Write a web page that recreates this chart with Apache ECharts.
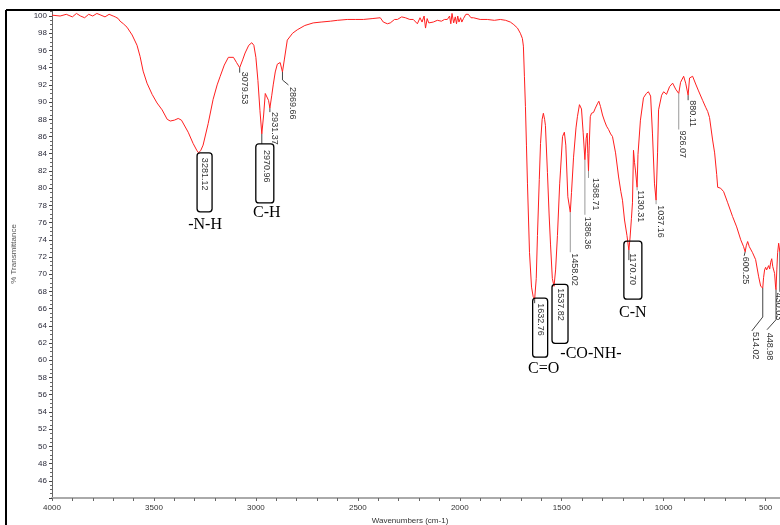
<!DOCTYPE html>
<html>
<head>
<meta charset="utf-8">
<script src="https://cdn.jsdelivr.net/npm/echarts@6/dist/echarts.min.js"></script>
<style>
html,body{margin:0;padding:0;background:#fff;overflow:hidden;}
#chart{width:780px;height:525px;}
</style>
</head>
<body>
<div id="chart"></div>
<script>
// ---- Spectrum data (wavenumber cm-1, % transmittance) ----
const specWn = [4000,3960,3930,3900,3880,3860,3840,3820,3800,3780,3760,3740,3720,3700,3690,3675,3666,3650,3632,3607,3583,3568,3553,3534,3509,3485,3460,3435,3420,3400,3381,3365,3357,3332,3308,3290,3281.12,3270,3259,3234,3210,3190,3175,3155,3135,3126,3110,3095,3079.53,3065,3053,3035,3020,3010,3000,2990,2980,2970.96,2962,2954,2945,2938,2931.37,2922,2915,2905,2895,2881,2869.66,2860,2846,2820,2797,2760,2719,2680,2635,2600,2552,2510,2473,2430,2390,2375,2355,2341,2320,2306,2285,2267,2245,2228,2208,2195,2185,2175,2168,2160,2152,2144,2130,2110,2090,2075,2061,2050,2044,2038,2030,2022,2016,2010,2004,1996,1990,1982,1970,1958,1945,1933,1900,1865,1830,1801,1775,1752,1735,1717,1703,1693,1688,1683,1678,1673,1668,1658,1648,1640,1632.76,1625,1619,1610,1604,1596,1590,1584,1580,1570,1562,1555,1546,1537.82,1530,1521,1510,1506,1496,1487,1480,1470,1458.02,1452,1442,1430,1423,1413,1403,1395,1386.36,1380,1375,1372,1368.71,1365,1360,1354,1344,1335,1325,1318,1310,1300,1290,1280,1270,1260,1251,1236,1221,1210,1202,1192,1180,1170.7,1165,1158,1153,1148,1143,1138,1130.31,1126,1114,1099,1085,1075,1064,1055,1045,1037.16,1030,1025,1010,1000,986,971,956,941,926.07,917,902,892,880.11,873,858,843,829,809,794,784,775,760,750,740,735,728,721,706,686,662,642,622,608,600.25,595,588,580,573,564,549,534,524,514.02,510,505,500,495,490,485,480,475,470,465,460,456,451,448.98,445,441,436,430.03,426,418,410,400];
const specT = [100.1,100.0,100.2,99.9,100.3,100.0,99.8,100.2,100.0,100.3,100.1,99.9,100.2,100.0,99.9,99.7,99.4,99.1,98.7,97.8,96.6,95.3,93.6,92.2,90.9,89.9,89.1,88.0,87.8,87.9,88.1,87.9,87.7,86.5,85.2,84.4,84.1,84.4,85.0,87.5,90.3,92.0,93.0,94.3,95.2,95.4,95.2,94.6,94.0,94.9,95.7,96.6,96.9,96.6,95.2,92.5,89.0,86.3,88.5,91.0,91.2,90.2,89.3,90.8,92.0,93.5,94.4,94.6,93.5,95.0,97.2,98.0,98.4,98.9,99.2,99.3,99.4,99.5,99.6,99.6,99.6,99.7,99.8,99.3,99.1,99.2,99.6,99.6,99.9,99.8,99.6,99.6,99.1,99.8,99.3,100.0,98.6,99.7,99.2,99.4,99.3,99.5,99.4,99.6,99.6,100.0,99.1,100.3,99.2,99.9,99.1,100.0,99.3,99.8,99.3,99.7,100.2,100.2,99.8,99.8,99.6,99.6,99.5,99.6,99.5,99.3,99.0,98.6,98.0,97.4,96.5,93.0,89.5,85.0,80.5,72.5,68.5,67.4,67.1,69.5,74.5,81.0,85.2,88.0,88.7,88.0,87.3,81.8,77.0,73.5,69.5,68.6,70.5,74.5,80.5,82.0,86.0,86.5,85.0,79.0,77.2,79.5,83.6,87.0,88.3,89.7,89.2,86.5,83.3,85.8,86.4,84.0,82.0,85.0,88.3,88.7,88.8,89.3,89.8,90.1,89.5,88.5,87.8,87.2,86.8,86.3,86.0,84.1,81.3,79.6,78.6,76.3,74.5,72.8,74.2,76.5,78.3,84.4,83.0,82.0,80.1,83.9,87.9,90.5,91.0,91.2,90.7,86.4,80.5,78.6,84.1,89.1,90.8,91.2,90.9,91.8,92.2,91.5,91.0,92.3,93.0,92.2,90.8,92.8,93.0,92.1,91.3,90.2,89.4,88.9,88.2,85.6,84.1,81.6,80.1,80.1,80.0,79.6,78.3,76.7,75.5,74.0,73.2,72.6,73.3,73.8,73.2,73.4,72.5,71.7,69.7,68.6,68.4,69.6,70.5,70.8,70.5,70.6,71.0,70.6,71.4,71.8,70.9,70.8,70.1,68.5,68.2,70.5,72.5,73.6,72.6,73.2,72.5,73.0,72.8];

// ---- Peak annotations ----
const peakWn = [3281.12,3079.53,2970.96,2931.37,2869.66,1632.76,1537.82,1458.02,1386.36,1368.71,1170.70,1130.31,1037.16,926.07,880.11,600.25,514.02,448.98,430.03];
const peakT  = [84.1,94.0,86.3,89.3,93.5,67.1,68.6,77.2,83.3,82.0,72.8,80.1,78.6,91.0,90.8,72.6,68.4,68.2,72.6];
const groupNames = ['-N-H','C-H','C=O','-CO-NH-','C-N'];

// ---- Axis ticks ----
const xTickLabels = [4000,3500,3000,2500,2000,1500,1000,500];
const yTickLabels = [100,98,96,94,92,90,88,86,84,82,80,78,76,74,72,70,68,66,64,62,60,58,56,54,52,50,48,46];

// label layout (pixel offsets relative to the peak point)
const peakLayout = [
  {tx:6,  ty:5,  box:[-1.5,0,15,59], group:0, gx:6.5, gy:72},
  {tx:5,  ty:4,  line:[[0,0],[0,5]]},
  {tx:4.5,ty:16, line:[[0,0],[0,10]], box:[-6,10,18,59], group:1, gx:5, gy:79},
  {tx:4.5,ty:4,  line:[[0,0],[0,4]]},
  {tx:10.5,ty:15,line:[[0,0],[0,8],[6,13]]},
  {tx:5.5,ty:4,  line:[[0,0],[0,4]], box:[-2,-1,15,59], group:2, gx:9, gy:70},
  {tx:6.5,ty:2,  box:[-2,-2,16,59], group:3, gx:37, gy:68},
  {tx:4.5,ty:41, line:[[0,0],[0,40]], lc:'#999'},
  {tx:3,  ty:57, line:[[0,0],[0,55]], lc:'#999'},
  {tx:7,  ty:7,  line:[[0,0],[0,7]], lc:'#999'},
  {tx:4,  ty:3,  line:[[0,0],[0,10]], box:[-5,-9,18,58], group:4, gx:4, gy:63},
  {tx:3.5,ty:3,  line:[[0,0],[0,3]], lc:'#999'},
  {tx:4,  ty:5,  line:[[0,0],[0,4]], lc:'#999'},
  {tx:4,  ty:37, line:[[0,0],[0,36]], lc:'#999'},
  {tx:4.5,ty:5,  line:[[0,0],[0,5]]},
  {tx:0.5,ty:5,  line:[[0,0],[-1,4]]},
  {tx:-7, ty:44, line:[[0,0],[0,29],[-11,43]]},
  {tx:-7, ty:43, line:[[0,0],[0,30],[-9,40]]},
  {tx:-1, ty:41, line:[[0,0],[0,40]]}
];

const spectrum = specWn.map((w,i)=>[w, specT[i]]);
const peaks = peakWn.map((w,i)=>[w, peakT[i], i]);

function renderPeak(params, api){
  const i = params.dataIndex;
  const p = api.coord([api.value(0), api.value(1)]);
  const L = peakLayout[i];
  const ch = [];
  if (L.line) ch.push({type:'polyline', shape:{points:L.line.map(d=>[p[0]+d[0],p[1]+d[1]])},
      style:{stroke:L.lc||'#444', lineWidth:1, fill:null}});
  if (L.box) ch.push({type:'rect', shape:{x:p[0]+L.box[0], y:p[1]+L.box[1], width:L.box[2], height:L.box[3], r:3},
      style:{stroke:'#000', lineWidth:1.3, fill:'rgba(0,0,0,0)'}});
  ch.push({type:'text', x:p[0]+L.tx, y:p[1]+L.ty, rotation:-Math.PI/2,
      style:{text:peakWn[i].toFixed(2), fill:'#333', font:'9px "Liberation Sans", Arial, sans-serif',
             align:'left', verticalAlign:'middle', textAlign:'left', textVerticalAlign:'middle'}});
  if (L.group != null) ch.push({type:'text', x:p[0]+L.gx, y:p[1]+L.gy,
      style:{text:groupNames[L.group], fill:'#000', font:'16px "Liberation Serif", "Times New Roman", serif',
             align:'center', verticalAlign:'middle', textAlign:'center', textVerticalAlign:'middle'}});
  return {type:'group', children:ch};
}

const chart = echarts.init(document.getElementById('chart'), null, {renderer:'canvas'});
chart.setOption({
  animation:false,
  backgroundColor:'#fff',
  grid:{left:52, top:10, width:734, height:488, containLabel:false, outerBoundsMode:'none'},
  xAxis:{
    type:'value', inverse:true, min:400, max:4000, interval:100,
    name:'Wavenumbers (cm-1)', nameLocation:'middle', nameGap:16,
    nameTextStyle:{fontSize:8, color:'#333', fontFamily:'"Liberation Sans", Arial, sans-serif', padding:[0,18,0,0]},
    axisLine:{lineStyle:{color:'#aaa', width:2}},
    axisTick:{length:3, lineStyle:{color:'#666'}},
    axisLabel:{fontSize:8, color:'#333', margin:6, fontFamily:'"Liberation Sans", Arial, sans-serif',
      formatter:v=> xTickLabels.indexOf(v) >= 0 ? String(v) : ''},
    splitLine:{show:false}
  },
  yAxis:{
    type:'value', min:44, max:100.7, interval:2,
    name:'% Transmittance', nameLocation:'middle', nameGap:34, nameRotate:90,
    nameTextStyle:{fontSize:8, color:'#555', fontFamily:'"Liberation Sans", Arial, sans-serif'},
    axisLine:{show:true, lineStyle:{color:'#666', width:1}},
    axisTick:{show:true, length:3, lineStyle:{color:'#444'}},
    minorTick:{show:true, splitNumber:4, length:2, lineStyle:{color:'#666'}},
    axisLabel:{fontSize:8, color:'#2a2a3a', margin:5, fontFamily:'"Liberation Sans", Arial, sans-serif',
      formatter:v=> yTickLabels.indexOf(v) >= 0 ? String(v) : ''},
    splitLine:{show:false}
  },
  graphic:[
    {type:'line', shape:{x1:6, y1:10, x2:780, y2:10}, style:{stroke:'#000', lineWidth:2}, z:100},
    {type:'line', shape:{x1:6, y1:10, x2:6, y2:525}, style:{stroke:'#000', lineWidth:2}, z:100}
  ],
  series:[
    {type:'line', data:spectrum, showSymbol:false, symbol:'none', clip:true,
     lineStyle:{color:'#ff1f1f', width:1}, z:3},
    {type:'custom', data:peaks, renderItem:renderPeak, encode:{x:0, y:1}, clip:false, silent:true, z:5}
  ]
});
</script>
</body>
</html>
